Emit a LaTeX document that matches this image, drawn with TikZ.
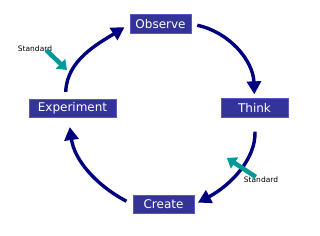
\documentclass[tikz,border=0pt]{standalone}
\usepackage{fontspec}
\setmainfont{DejaVu Sans}
\usetikzlibrary{arrows.meta}
\definecolor{boxblue}{RGB}{51,51,153}
\definecolor{boxedge}{RGB}{90,90,190}
\definecolor{cyclenavy}{RGB}{0,0,128}
\definecolor{stdteal}{RGB}{0,153,153}
\begin{document}
\begin{tikzpicture}[x=1pt, y=-1pt,
  stage/.style={draw=boxedge, line width=0.8pt, fill=boxblue, text=white,
    font=\fontsize{12}{14}\selectfont, minimum height=18.5pt, inner sep=0pt},
  cycle/.style={draw=cyclenavy, line width=3.4pt,
    -{Triangle[length=13pt,width=14pt]}},
  stdarrow/.style={draw=stdteal, line width=4.5pt,
    -{Triangle[length=9pt,width=13pt]}},
  stdlabel/.style={font=\fontsize{7.5}{9}\selectfont, inner sep=0pt}]
  \useasboundingbox (0,0) rectangle (320,235);

  \node[stage, minimum width=61pt] (observe) at (160.5,24) {Observe};
  \node[stage, minimum width=67pt] (think) at (254.5,108) {Think};
  \node[stage, minimum width=87pt] (experiment) at (72.5,108.5) {Experiment};
  \node[stage, minimum width=61pt] (create) at (163.5,204.5) {Create};

  \draw[cycle, shorten <=7pt, shorten >=6pt]
    ([xshift=-7pt]experiment.north) to[out=88, in=212] (observe.west);
  \draw[cycle, shorten <=6pt, shorten >=4pt]
    (observe.east) to[out=-12, in=92] (think.north);
  \draw[cycle, shorten <=14pt, shorten >=4pt]
    (think.south) to[out=-88, in=28] (create.east);
  \draw[cycle, shorten <=7pt, shorten >=9pt]
    (create.west) to[out=152, in=-82] ([xshift=-4pt]experiment.south);

  % the two standards
  \node[stdlabel] (std1) at (35,49) {Standard};
  \node[stdlabel] (std2) at (261,180) {Standard};
  \coordinate (std1tip) at (67,70);
  \coordinate (std2tip) at (227,158);
  \draw[stdarrow] ([xshift=-6pt, yshift=2pt]std1.south east) -- (std1tip);
  \draw[stdarrow] ([xshift=12pt]std2.north west) -- (std2tip);
\end{tikzpicture}
\end{document}
